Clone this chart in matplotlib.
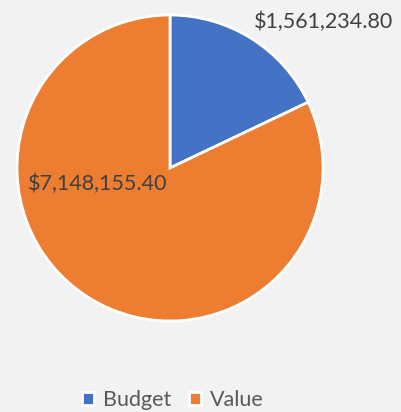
import matplotlib
matplotlib.use("Agg")
from matplotlib import pyplot as plt

categories = ["Budget", "Value"]
values = [1561234.80, 7148155.40]
colors = ["#4472C4", "#ED7D31"]

plt.rcParams['font.family'] = ['Lato', 'DejaVu Sans']

fig = plt.figure(figsize=(4.01, 4.12), dpi=100, facecolor="#F2F2F2")
ax = fig.add_axes([17 / 401, 91 / 412, 306 / 401, 306 / 412])
ax.set_facecolor("#F2F2F2")

wedges, _ = ax.pie(values, colors=colors, startangle=90, counterclock=False,
                   radius=1.0, wedgeprops=dict(edgecolor="white", linewidth=2))
ax.set_xlim(-1, 1)
ax.set_ylim(-1, 1)
ax.set_aspect("equal")
ax.axis("off")

label_pos = [(1.005, 0.955), (-0.47, -0.105)]
for v, (x, y) in zip(values, label_pos):
    ax.text(x, y, "${:,.2f}".format(v), ha="center", va="center",
            fontsize=15.5, color="#404040", clip_on=False)

fig.legend(wedges, categories, loc="center", ncol=2, frameon=False,
           bbox_to_anchor=(173 / 401, 12 / 412), fontsize=15.5, labelcolor="#595959",
           handlelength=0.55, handleheight=0.55, handletextpad=0.4, columnspacing=0.85,
           borderpad=0)

fig.savefig("out.png", dpi=100, facecolor=fig.get_facecolor())
